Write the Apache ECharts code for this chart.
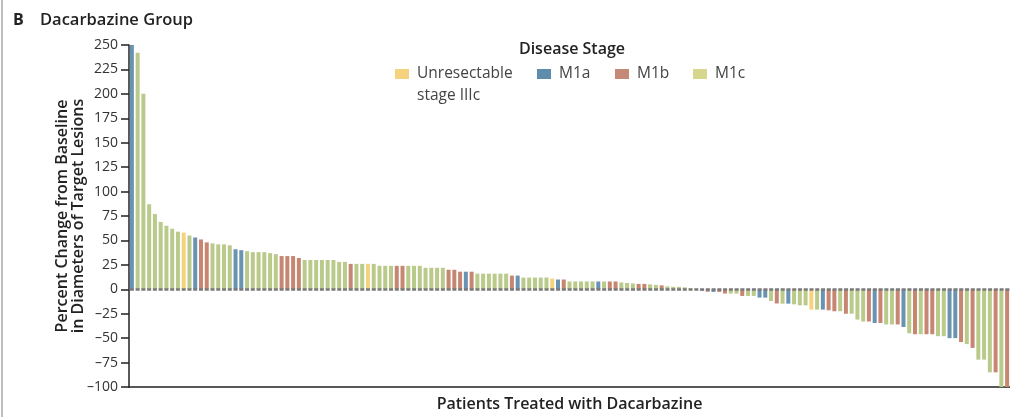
<!DOCTYPE html>
<html>
<head>
<meta charset="utf-8">
<script src="https://cdn.jsdelivr.net/npm/echarts@6/dist/echarts.min.js"></script>
<style>
html,body{margin:0;padding:0;background:#fff;}
#chart{width:1010px;height:417px;}
</style>
</head>
<body>
<div id="chart"></div>
<script>
// Stage codes: U = Unresectable stage IIIc, A = M1a, B = M1b, C = M1c
var stageNames = ['Unresectable stage IIIc', 'M1a', 'M1b', 'M1c'];
var stageCodes = ['U', 'A', 'B', 'C'];
var barColors = ['#F5D27E', '#6A93B1', '#C68671', '#BACA8B'];
var legendColors = ['#F5D27E', '#5F8CAA', '#C58A77', '#D7D68E'];

var values = [
  250, 242, 200, 87, 77, 69, 65, 62, 59, 58,
  55, 53, 51, 48, 47, 46, 46, 45, 41, 40,
  39, 38, 38, 38, 37, 36, 34, 34, 34, 32,
  30, 30, 30, 30, 30, 30, 28, 28, 26, 26,
  26, 26, 26, 24, 24, 24, 24, 24, 24, 24,
  24, 22, 22, 22, 22, 20, 20, 18, 18, 18,
  16, 16, 16, 16, 16, 16, 14, 14, 12, 12,
  12, 12, 12, 11, 10, 10, 8, 8, 8, 8,
  8, 8, 8, 8, 8, 7, 6.5, 6, 5.5, 5.5,
  5, 4.5, 4, 3, 2.5, 2.5, 2, 1, 0.5, -1.5,
  -2.5, -2.7, -2.7, -4.4, -4.4, -4.4, -6.8, -6.8, -6.8, -8.5,
  -8.5, -12, -14.5, -14.7, -14.7, -15.4, -16.4, -16.4, -20.8, -20.8,
  -20.8, -21.5, -22.5, -22.5, -25, -25, -31, -33, -33, -34.5,
  -34.5, -36, -36, -36, -38.6, -45, -46, -46, -46, -46,
  -48, -48, -50, -50, -54, -56, -60, -72, -72, -85,
  -85, -100, -100
];

var stages = [
  'A','C','C','C','C','C','C','C','C','U',
  'C','A','B','B','C','C','C','C','A','A',
  'C','C','C','C','C','C','B','B','B','B',
  'C','C','C','C','C','C','C','C','B','C',
  'C','U','C','C','C','C','B','B','C','C',
  'C','C','C','C','C','B','B','B','A','B',
  'C','C','C','C','C','C','B','A','C','C',
  'C','C','C','U','A','B','C','C','C','C',
  'C','A','C','B','B','C','C','C','B','B',
  'C','C','B','C','C','C','C','U','C','A',
  'B','A','B','B','C','C','B','C','C','A',
  'A','C','B','C','A','C','C','C','U','C',
  'A','B','B','C','B','C','C','C','B','A',
  'B','C','C','B','A','C','B','C','B','B',
  'C','C','A','A','B','C','B','C','C','C',
  'B','C','B'
];

var patients = values.map(function (v, i) { return String(i + 1); });
var yTicks = { min: -100, max: 250, interval: 25 };

var FONT = 'Open Sans';

var series = stageCodes.map(function (code, k) {
  var s = {
    name: stageNames[k],
    type: 'bar',
    stack: 'all',
    barWidth: 4,
    itemStyle: { color: barColors[k] },
    data: values.map(function (v, i) { return stages[i] === code ? v : '-'; })
  };
  if (k === 0) {
    s.markLine = {
      silent: true,
      symbol: ['none', 'none'],
      label: { show: false },
      lineStyle: { color: '#7a7a7a', width: 2.5, type: [4, 1.76], dashOffset: 4.9 },
      data: [{ yAxis: 0 }]
    };
  }
  return s;
});

function legendFor(k, left, top, extra) {
  var lg = {
    left: left,
    top: top,
    padding: 0,
    itemWidth: 14,
    itemHeight: 10,
    selectedMode: false,
    icon: 'rect',
    data: [{ name: stageNames[k], itemStyle: { color: legendColors[k] } }],
    textStyle: { fontFamily: FONT, fontSize: 15.5, color: '#444', lineHeight: 22, padding: [0, 0, 0, 3] }
  };
  if (extra) { for (var key in extra) lg[key] = extra[key]; }
  return lg;
}

var chart = echarts.init(document.getElementById('chart'), null, { renderer: 'canvas' });
chart.setOption({
  animation: false,
  backgroundColor: '#fff',
  title: [
    {
      text: '{b|B}{t|Dacarbazine Group}',
      left: 13, top: 10, padding: 0,
      textStyle: {
        rich: {
          b: { fontFamily: FONT, fontWeight: 'bold', fontSize: 16, color: '#222', width: 27, lineHeight: 20 },
          t: { fontFamily: FONT, fontWeight: 600, fontSize: 16.5, color: '#222', lineHeight: 20 }
        }
      }
    },
    {
      text: 'Disease Stage',
      left: 572, top: 39, padding: 0, textAlign: 'center',
      textStyle: { fontFamily: FONT, fontWeight: 600, fontSize: 16, color: '#222', lineHeight: 20 }
    }
  ],
  legend: [
    legendFor(0, 395, 41, {
      formatter: function (n) { return '\u00a0\n' + n.replace(' stage', '\nstage'); }
    }),
    legendFor(1, 537, 63),
    legendFor(2, 615, 63),
    legendFor(3, 693, 63)
  ],
  graphic: [
    { type: 'line', shape: { x1: 2, y1: 0, x2: 2, y2: 417 }, style: { stroke: '#a8a8a8', lineWidth: 1.5 }, silent: true }
  ],
  grid: { left: 129, right: 0, top: 45, bottom: 29 },
  xAxis: {
    type: 'category',
    data: patients,
    position: 'bottom',
    name: 'Patients Treated with Dacarbazine',
    nameLocation: 'middle',
    nameGap: 9,
    nameMoveOverlap: false,
    nameTextStyle: { fontFamily: FONT, fontWeight: 600, fontSize: 16, color: '#222' },
    axisLine: { onZero: false, lineStyle: { color: '#222', width: 1.5 } },
    axisTick: { show: false },
    axisLabel: { show: false },
    splitLine: { show: false }
  },
  yAxis: {
    type: 'value',
    min: yTicks.min,
    max: yTicks.max,
    interval: yTicks.interval,
    name: 'Percent Change from Baseline\nin Diameters of Target Lesions',
    nameLocation: 'middle',
    nameRotate: 90,
    nameGap: 43,
    nameMoveOverlap: false,
    nameTextStyle: { fontFamily: FONT, fontWeight: 600, fontSize: 16, color: '#222', lineHeight: 16 },
    axisLine: { show: true, lineStyle: { color: '#222', width: 1.5 } },
    axisTick: { show: true, length: 8, lineStyle: { color: '#222', width: 1.5 } },
    axisLabel: {
      fontFamily: FONT, fontSize: 14, color: '#333', margin: 11,
      formatter: function (v) { return v < 0 ? '\u2013' + (-v) : String(v); }
    },
    splitLine: { show: false }
  },
  series: series
});
</script>
</body>
</html>
